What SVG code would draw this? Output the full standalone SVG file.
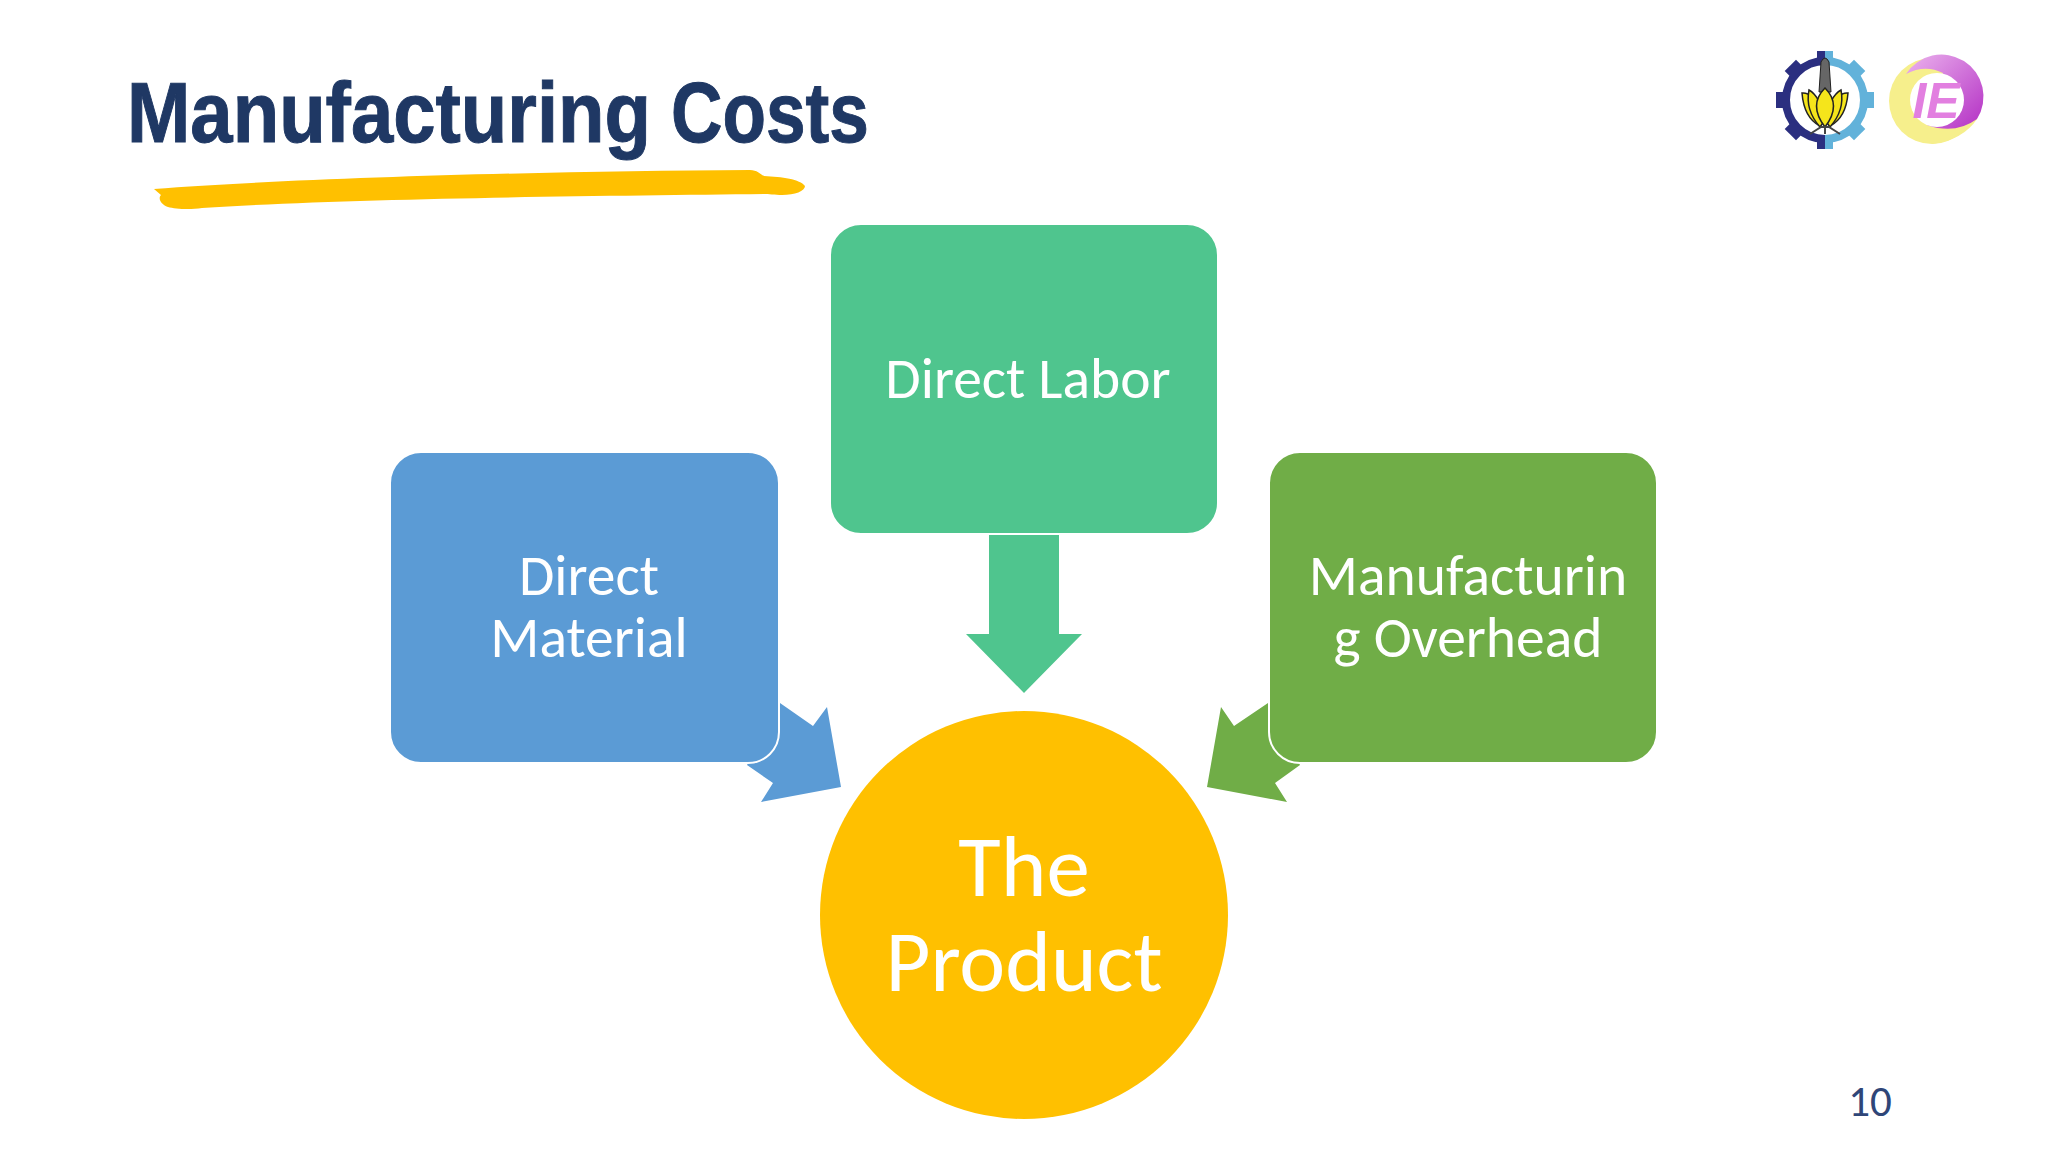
<svg xmlns="http://www.w3.org/2000/svg" width="2048" height="1152" viewBox="0 0 2048 1152">
<defs>
<style>
.lbl{font-family:Carlito,Lato,"Liberation Sans",sans-serif;fill:#fff;text-anchor:middle}
.box{stroke:#fff;stroke-width:2}
.ttl{font-family:"Liberation Sans",sans-serif;font-weight:700;font-size:85px;fill:#1f3864;stroke:#1f3864;stroke-width:1}
</style>
<linearGradient id="pg" x1="0" y1="0" x2="1" y2="1"><stop offset="0" stop-color="#ecb4ee"/><stop offset="1" stop-color="#b32fc4"/></linearGradient>
<rect id="tooth" x="-8" y="-49" width="16" height="11"/>
</defs>
<rect width="2048" height="1152" fill="#fff"/>
<g id="title">
<text class="ttl" y="142"><tspan x="127" textLength="524" lengthAdjust="spacingAndGlyphs">Manufacturing</tspan> <tspan x="671" textLength="198" lengthAdjust="spacingAndGlyphs">Costs</tspan></text>
<path d="M154 189C300 178 550 171 750 170C757 170 760 174 764 176C782 177 800 179 805 186C805 191 795 195 782 195C775 195 768 194 764 194C600 196 350 198 202 208C190 210 175 209 168 207C160 204 158 198 161 195Z" fill="#ffc000"/>
</g>
<g id="logos">
<g id="logo-its">
<path d="M1825 61A39 39 0 0 0 1825 139" fill="none" stroke="#2b2f80" stroke-width="8"/>
<path d="M1825 61A39 39 0 0 1 1825 139" fill="none" stroke="#62b2da" stroke-width="8"/>
<g fill="#2b2f80">
<rect x="1817" y="51" width="8" height="11"/>
<use href="#tooth" transform="translate(1825 100) rotate(-45)"/>
<use href="#tooth" transform="translate(1825 100) rotate(-90)"/>
<use href="#tooth" transform="translate(1825 100) rotate(-135)"/>
<rect x="1817" y="138" width="8" height="11"/>
</g>
<g fill="#62b2da">
<rect x="1825" y="51" width="8" height="11"/>
<use href="#tooth" transform="translate(1825 100) rotate(45)"/>
<use href="#tooth" transform="translate(1825 100) rotate(90)"/>
<use href="#tooth" transform="translate(1825 100) rotate(135)"/>
<rect x="1825" y="138" width="8" height="11"/>
</g>
<path d="M1821 62Q1825 54 1829 62L1831 92H1819Z" fill="#666" stroke="#222" stroke-width="1"/>
<g fill="#f5e51b" stroke="#222" stroke-width="1.5">
<path d="M1802 93Q1812 92 1822 110L1820 126Q1804 118 1802 93Z"/>
<path d="M1848 93Q1838 92 1828 110L1830 126Q1846 118 1848 93Z"/>
<path d="M1809 90Q1820 96 1825 120L1820 127Q1805 110 1809 90Z"/>
<path d="M1841 90Q1830 96 1825 120L1830 127Q1845 110 1841 90Z"/>
<path d="M1825 88Q1842 105 1825 127Q1808 105 1825 88Z"/>
</g>
<path d="M1810 134L1821 127H1829L1840 134M1825 127V134" fill="none" stroke="#444" stroke-width="2"/>
</g>
<g id="logo-ie">
<circle cx="1932" cy="101" r="43" fill="#f6ef8c"/>
<path d="M1977 119Q1963 140 1932 144V100Z" fill="#f6ef8c"/>
<path d="M1906 74A42 42 0 0 1 1977 119Q1955 135 1927 125L1943 73Q1925 64 1906 74Z" fill="url(#pg)"/>
<circle cx="1937" cy="100" r="27" fill="#fff"/>
<text x="1936" y="118" font-family="'Liberation Sans',sans-serif" font-style="italic" font-weight="700" font-size="50" text-anchor="middle" fill="#e27fe0">IE</text>
</g>
</g>
<g id="connectors">
<path id="arrow-material" d="M780 703L813 726L827 707L841 787L761 802L773 783L747 765Z" fill="#5b9bd5"/>
<path id="arrow-labor" d="M989 535H1059V634H1082L1024 693L966 634H989Z" fill="#4fc58e"/>
<path id="arrow-overhead" d="M1268 703L1234 726L1221 707L1207 787L1287 802L1275 783L1300 765Z" fill="#70ad47"/>
</g>
<g id="node-direct-material">
<rect class="box" x="390" y="452" width="389" height="311" rx="31" fill="#5b9bd5"/>
<text class="lbl" font-size="57.5"><tspan x="589" y="595">Direct</tspan><tspan x="589" y="657">Material</tspan></text>
</g>
<g id="node-direct-labor">
<rect class="box" x="830" y="224" width="388" height="310" rx="31" fill="#4fc58e"/>
<text class="lbl" x="1028" y="398" font-size="57.5">Direct Labor</text>
</g>
<g id="node-overhead">
<rect class="box" x="1269" y="452" width="388" height="311" rx="31" fill="#70ad47"/>
<text class="lbl" font-size="57.5"><tspan x="1468" y="595">Manufacturin</tspan><tspan x="1468" y="657">g Overhead</tspan></text>
</g>
<g id="node-product">
<circle cx="1024" cy="915" r="204" fill="#ffc000"/>
<text class="lbl" font-size="87"><tspan x="1024" y="896">The</tspan><tspan x="1024" y="991">Product</tspan></text>
</g>
<text id="page-number" x="1870" y="1116" font-family="Carlito,Lato,sans-serif" font-size="43" text-anchor="middle" fill="#2f4678">10</text>
</svg>
